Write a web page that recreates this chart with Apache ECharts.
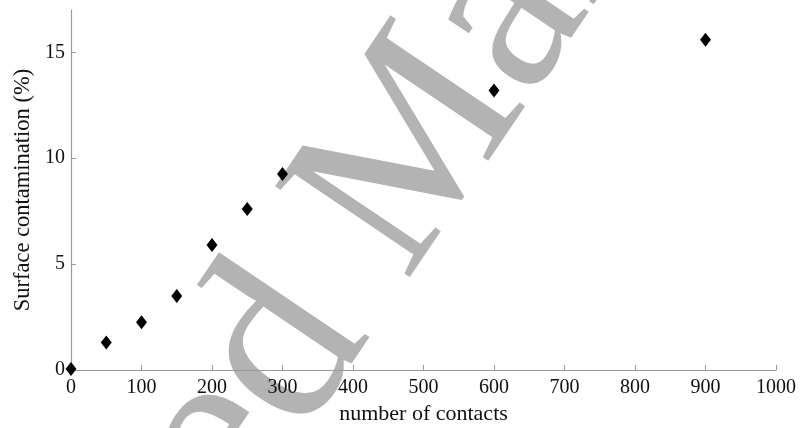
<!DOCTYPE html>
<html>
<head>
<meta charset="utf-8">
<script src="https://cdn.jsdelivr.net/npm/echarts@6/dist/echarts.min.js"></script>
<style>
  html, body { margin: 0; padding: 0; background: #fff; }
  #chart { width: 800px; height: 428px; }
</style>
</head>
<body>
<div id="chart"></div>
<script>
const contacts = [0, 50, 100, 150, 200, 250, 300, 600, 900];
const contamination = [0.05, 1.3, 2.25, 3.5, 5.9, 7.6, 9.25, 13.2, 15.6];
const yTicks = [0, 5, 10, 15];

const serif = '"Liberation Serif", "DejaVu Serif", serif';
const axisGray = "#9a9a9a";
const angle = 56 * Math.PI / 180;
// watermark anchor (middle of the line, at the gap between the two words)
const wmX = 317, wmY = 298;

const chart = echarts.init(document.getElementById("chart"));

const option = {
  animation: false,
  grid: { left: 71, right: 24, top: 10, bottom: 58, outerBoundsMode: "none" },
  graphic: {
    elements: [
      {
        type: "text", x: wmX, y: wmY, rotation: angle, z: -10, silent: true,
        style: { text: "Accepted", font: "248px " + serif, fill: "#b3b3b3",
                 textAlign: "right", textVerticalAlign: "middle" }
      },
      {
        type: "text", x: wmX, y: wmY, rotation: angle, z: -10, silent: true,
        style: { text: "\u00a0Manuscript", font: "248px " + serif, fill: "#b3b3b3",
                 textAlign: "left", textVerticalAlign: "middle" }
      }
    ]
  },
  xAxis: {
    type: "value",
    min: 0,
    max: 1000,
    interval: 100,
    name: "number of contacts",
    nameLocation: "middle",
    nameGap: 29,
    nameTextStyle: { fontFamily: serif, fontSize: 22, color: "#111" },
    axisLine: { lineStyle: { color: axisGray, width: 1.2 } },
    axisTick: { inside: true, length: 5, lineStyle: { color: axisGray } },
    axisLabel: { margin: 8, fontFamily: serif, fontSize: 20, color: "#111", formatter: v => String(v) },
    splitLine: { show: false }
  },
  yAxis: {
    type: "value",
    min: 0,
    max: 17,
    name: "Surface contamination (%)",
    nameLocation: "middle",
    nameGap: 36,
    nameTextStyle: { fontFamily: serif, fontSize: 22.5, color: "#111" },
    axisLine: { show: true, lineStyle: { color: axisGray, width: 1.2 } },
    axisTick: { show: true, inside: true, length: 5, customValues: yTicks, lineStyle: { color: axisGray } },
    axisLabel: { margin: 6, fontFamily: serif, fontSize: 20, color: "#111", customValues: yTicks },
    splitLine: { show: false }
  },
  series: [
    {
      type: "scatter",
      data: contacts.map((c, i) => [c, contamination[i]]),
      symbol: "diamond",
      symbolSize: [11, 14],
      itemStyle: { color: "#000", opacity: 1 },
      z: 5
    }
  ]
};

chart.setOption(option);
</script>
</body>
</html>
